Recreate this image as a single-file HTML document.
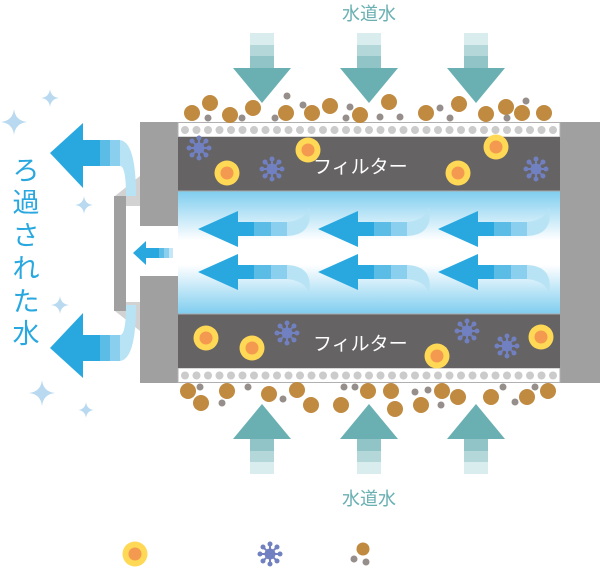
<!DOCTYPE html><html><head><meta charset="utf-8"><style>body{margin:0;background:#fff}svg{display:block}text{font-family:"Liberation Sans","Noto Sans CJK JP",sans-serif}</style></head><body>
<svg width="600" height="571" viewBox="0 0 600 571" xmlns="http://www.w3.org/2000/svg">
<defs>
<linearGradient id="ch" x1="0" y1="0" x2="0" y2="1"><stop offset="0" stop-color="#7fcdef"/><stop offset="0.4" stop-color="#fff"/><stop offset="0.6" stop-color="#fff"/><stop offset="1" stop-color="#7fcdef"/></linearGradient>
<g id="down"><rect x="-12" y="0" width="24" height="12" fill="#d9ecee"/><rect x="-12" y="12" width="24" height="11" fill="#b4d8da"/><rect x="-12" y="23" width="24" height="12" fill="#90c4c6"/><rect x="-12" y="35" width="24" height="2" fill="#6ab0b3"/><polygon points="-29,35 29,35 0,70" fill="#6ab0b3"/></g>
<g id="ca"><polygon points="0,0 40,-18 40,18" fill="#29a8e0"/><rect x="39" y="-7" width="17" height="14" fill="#29a8e0"/><rect x="56" y="-7" width="17" height="14" fill="#5bbce6"/><rect x="73" y="-7" width="16" height="14" fill="#8ad0ee"/><path d="M89,-7 Q108,-9 111,-22 Q116,6 89,7 Z" fill="#b8e3f5"/></g>
<g id="v"><g stroke="#7180c0" stroke-width="2"><line x1="-9" y1="0" x2="9" y2="0"/><line x1="0" y1="-9" x2="0" y2="9"/><line x1="-6.4" y1="-6.4" x2="6.4" y2="6.4"/><line x1="-6.4" y1="6.4" x2="6.4" y2="-6.4"/></g><g fill="#7180c0"><circle r="5.5"/><circle cx="10" r="2.5"/><circle cx="-10" r="2.5"/><circle cy="10" r="2.5"/><circle cy="-10" r="2.5"/><circle cx="7" cy="7" r="2.5"/><circle cx="-7" cy="7" r="2.5"/><circle cx="7" cy="-7" r="2.5"/><circle cx="-7" cy="-7" r="2.5"/></g></g>
<g id="y"><circle r="12.5" fill="#ffd855"/><circle r="6.5" fill="#f39a50"/></g>
<g id="bl"><polygon points="50,153 83,123 83,188" fill="#29a8e0"/><rect x="82" y="140" width="18" height="26" fill="#29a8e0"/><rect x="100" y="140" width="10" height="26" fill="#5bbce6"/><rect x="110" y="140" width="10" height="26" fill="#8ad0ee"/><path d="M120,140 Q136,142 136,196 L126,196 Q126,166 120,166 Z" fill="#b8e3f5"/></g>
<g id="sp"><path d="M0,-10 Q1,-1 10,0 Q1,1 0,10 Q-1,1 -10,0 Q-1,-1 0,-10Z" fill="#b8d9f0"/></g>
</defs>
<text x="369" y="20" font-size="18" fill="#6ab0b3" text-anchor="middle">水道水</text>
<text x="369" y="505" font-size="18" fill="#6ab0b3" text-anchor="middle">水道水</text>
<use href="#down" x="262" y="33"/><use href="#down" x="369" y="33"/><use href="#down" x="476" y="33"/>
<use href="#down" transform="translate(262,474) scale(1,-1)"/><use href="#down" transform="translate(369,474) scale(1,-1)"/><use href="#down" transform="translate(476,474) scale(1,-1)"/>
<rect x="140" y="122" width="38" height="104" fill="#a0a0a0"/><rect x="140" y="276" width="38" height="107" fill="#a0a0a0"/>
<rect x="560" y="122" width="40" height="261" fill="#a0a0a0"/>
<rect x="178" y="122.5" width="382" height="14.5" fill="#fff" stroke="#b0b0b0"/>
<rect x="178" y="368" width="382" height="14.5" fill="#fff" stroke="#b0b0b0"/>
<rect x="178" y="137" width="382" height="54" fill="#656364"/>
<rect x="178" y="314" width="382" height="54" fill="#656364"/>
<rect x="178" y="191" width="382" height="123" fill="url(#ch)"/>
<line x1="178" y1="191" x2="560" y2="191" stroke="#aaa"/><line x1="178" y1="314" x2="560" y2="314" stroke="#aaa"/>
<g fill="#cbcbcb" id="dots">
<circle cx="185" cy="130" r="4"/><circle cx="196.5" cy="130" r="4"/><circle cx="208" cy="130" r="4"/><circle cx="219.5" cy="130" r="4"/><circle cx="231" cy="130" r="4"/><circle cx="242.5" cy="130" r="4"/><circle cx="254" cy="130" r="4"/><circle cx="265.5" cy="130" r="4"/><circle cx="277" cy="130" r="4"/><circle cx="288.5" cy="130" r="4"/><circle cx="300" cy="130" r="4"/><circle cx="311.5" cy="130" r="4"/><circle cx="323" cy="130" r="4"/><circle cx="334.5" cy="130" r="4"/><circle cx="346" cy="130" r="4"/><circle cx="357.5" cy="130" r="4"/><circle cx="369" cy="130" r="4"/><circle cx="380.5" cy="130" r="4"/><circle cx="392" cy="130" r="4"/><circle cx="403.5" cy="130" r="4"/><circle cx="415" cy="130" r="4"/><circle cx="426.5" cy="130" r="4"/><circle cx="438" cy="130" r="4"/><circle cx="449.5" cy="130" r="4"/><circle cx="461" cy="130" r="4"/><circle cx="472.5" cy="130" r="4"/><circle cx="484" cy="130" r="4"/><circle cx="495.5" cy="130" r="4"/><circle cx="507" cy="130" r="4"/><circle cx="518.5" cy="130" r="4"/><circle cx="530" cy="130" r="4"/><circle cx="541.5" cy="130" r="4"/><circle cx="553" cy="130" r="4"/>
</g>
<use href="#dots" y="245.5"/>
<text x="313" y="173" font-size="19" fill="#fff">フィルター</text>
<text x="313" y="350" font-size="19" fill="#fff">フィルター</text>
<use href="#v" x="199" y="148"/><use href="#v" x="272" y="169"/><use href="#v" x="536" y="169"/>
<use href="#y" x="227" y="173"/><use href="#y" x="308" y="150"/><use href="#y" x="458" y="173"/><use href="#y" x="496" y="147"/>
<use href="#y" x="206" y="338"/><use href="#y" x="252" y="348"/><use href="#y" x="437" y="356"/><use href="#y" x="541" y="337"/>
<use href="#v" x="287" y="333"/><use href="#v" x="467" y="331"/><use href="#v" x="507" y="346"/>
<use href="#ca" x="198" y="229"/><use href="#ca" x="318" y="229"/><use href="#ca" x="438" y="229"/>
<use href="#ca" transform="translate(198,272) scale(1,-1)"/><use href="#ca" transform="translate(318,272) scale(1,-1)"/><use href="#ca" transform="translate(438,272) scale(1,-1)"/>
<g fill="#c08a40">
<circle cx="192" cy="113" r="8"/><circle cx="210" cy="103" r="8"/><circle cx="230" cy="115" r="8"/><circle cx="253" cy="108" r="8"/><circle cx="286" cy="113" r="8"/><circle cx="312" cy="113" r="8"/><circle cx="330" cy="106" r="8"/><circle cx="360" cy="115" r="8"/><circle cx="389" cy="102" r="8"/><circle cx="426" cy="113" r="8"/><circle cx="459" cy="104" r="8"/><circle cx="486" cy="114" r="8"/><circle cx="506" cy="107" r="8"/><circle cx="522" cy="113" r="8"/><circle cx="544" cy="113" r="8"/>
<circle cx="188" cy="391" r="8"/><circle cx="201" cy="403" r="8"/><circle cx="227" cy="391" r="8"/><circle cx="269" cy="394" r="8"/><circle cx="297" cy="390" r="8"/><circle cx="311" cy="405" r="8"/><circle cx="341" cy="405" r="8"/><circle cx="368" cy="391" r="8"/><circle cx="391" cy="391" r="8"/><circle cx="395" cy="409" r="8"/><circle cx="421" cy="405" r="8"/><circle cx="442" cy="391" r="8"/><circle cx="458" cy="397" r="8"/><circle cx="491" cy="397" r="8"/><circle cx="527" cy="397" r="8"/><circle cx="548" cy="391" r="8"/>
<circle cx="363" cy="549" r="6.5"/>
</g>
<g fill="#958e8a">
<circle cx="208" cy="118" r="3.5"/><circle cx="242" cy="118" r="3.5"/><circle cx="275" cy="118" r="3.5"/><circle cx="287" cy="96" r="3.5"/><circle cx="303" cy="105" r="3.5"/><circle cx="346" cy="118" r="3.5"/><circle cx="350" cy="107" r="3.5"/><circle cx="380" cy="117" r="3.5"/><circle cx="400" cy="117" r="3.5"/><circle cx="440" cy="108" r="3.5"/><circle cx="450" cy="118" r="3.5"/><circle cx="526" cy="101" r="3.5"/><circle cx="507" cy="118" r="3.5"/>
<circle cx="200" cy="387" r="3.5"/><circle cx="222" cy="403" r="3.5"/><circle cx="248" cy="387" r="3.5"/><circle cx="283" cy="399" r="3.5"/><circle cx="344" cy="387" r="3.5"/><circle cx="355" cy="387" r="3.5"/><circle cx="415" cy="392" r="3.5"/><circle cx="428" cy="390" r="3.5"/><circle cx="441" cy="405" r="3.5"/><circle cx="503" cy="387" r="3.5"/><circle cx="515" cy="402" r="3.5"/><circle cx="535" cy="387" r="3.5"/>
<circle cx="354" cy="559" r="3.5"/><circle cx="366" cy="562" r="3.5"/>
</g>
<polygon points="115,196 140,176 140,206 126,206" fill="#d2d2d2"/>
<polygon points="115,311 140,331 140,302 126,302" fill="#d2d2d2"/>
<rect x="114" y="196" width="12" height="115" fill="#a0a0a0"/>
<polygon points="133,253 146,241 146,265" fill="#29a8e0"/><rect x="145" y="248" width="14" height="10" fill="#29a8e0"/><rect x="159" y="248" width="5" height="10" fill="#5bbce6"/><rect x="164" y="248" width="5" height="10" fill="#8ad0ee"/><rect x="169" y="248" width="4" height="10" fill="#c4e6f6"/>
<use href="#bl"/><use href="#bl" transform="translate(0,501) scale(1,-1)"/>
<text font-size="27" fill="#29a8e0" text-anchor="middle"><tspan x="26" y="180">ろ</tspan><tspan x="26" y="212">過</tspan><tspan x="26" y="245">さ</tspan><tspan x="26" y="278">れ</tspan><tspan x="26" y="311">た</tspan><tspan x="26" y="343">水</tspan></text>
<use href="#sp" transform="translate(14,122) scale(1.3)"/><use href="#sp" transform="translate(50,98) scale(0.9)"/><use href="#sp" transform="translate(84,205) scale(0.9)"/><use href="#sp" transform="translate(60,305) scale(0.9)"/><use href="#sp" transform="translate(42,393) scale(1.3)"/><use href="#sp" transform="translate(86,410) scale(0.8)"/>
<use href="#y" x="135" y="554"/><use href="#v" x="270" y="554"/>
</svg>
</body></html>
